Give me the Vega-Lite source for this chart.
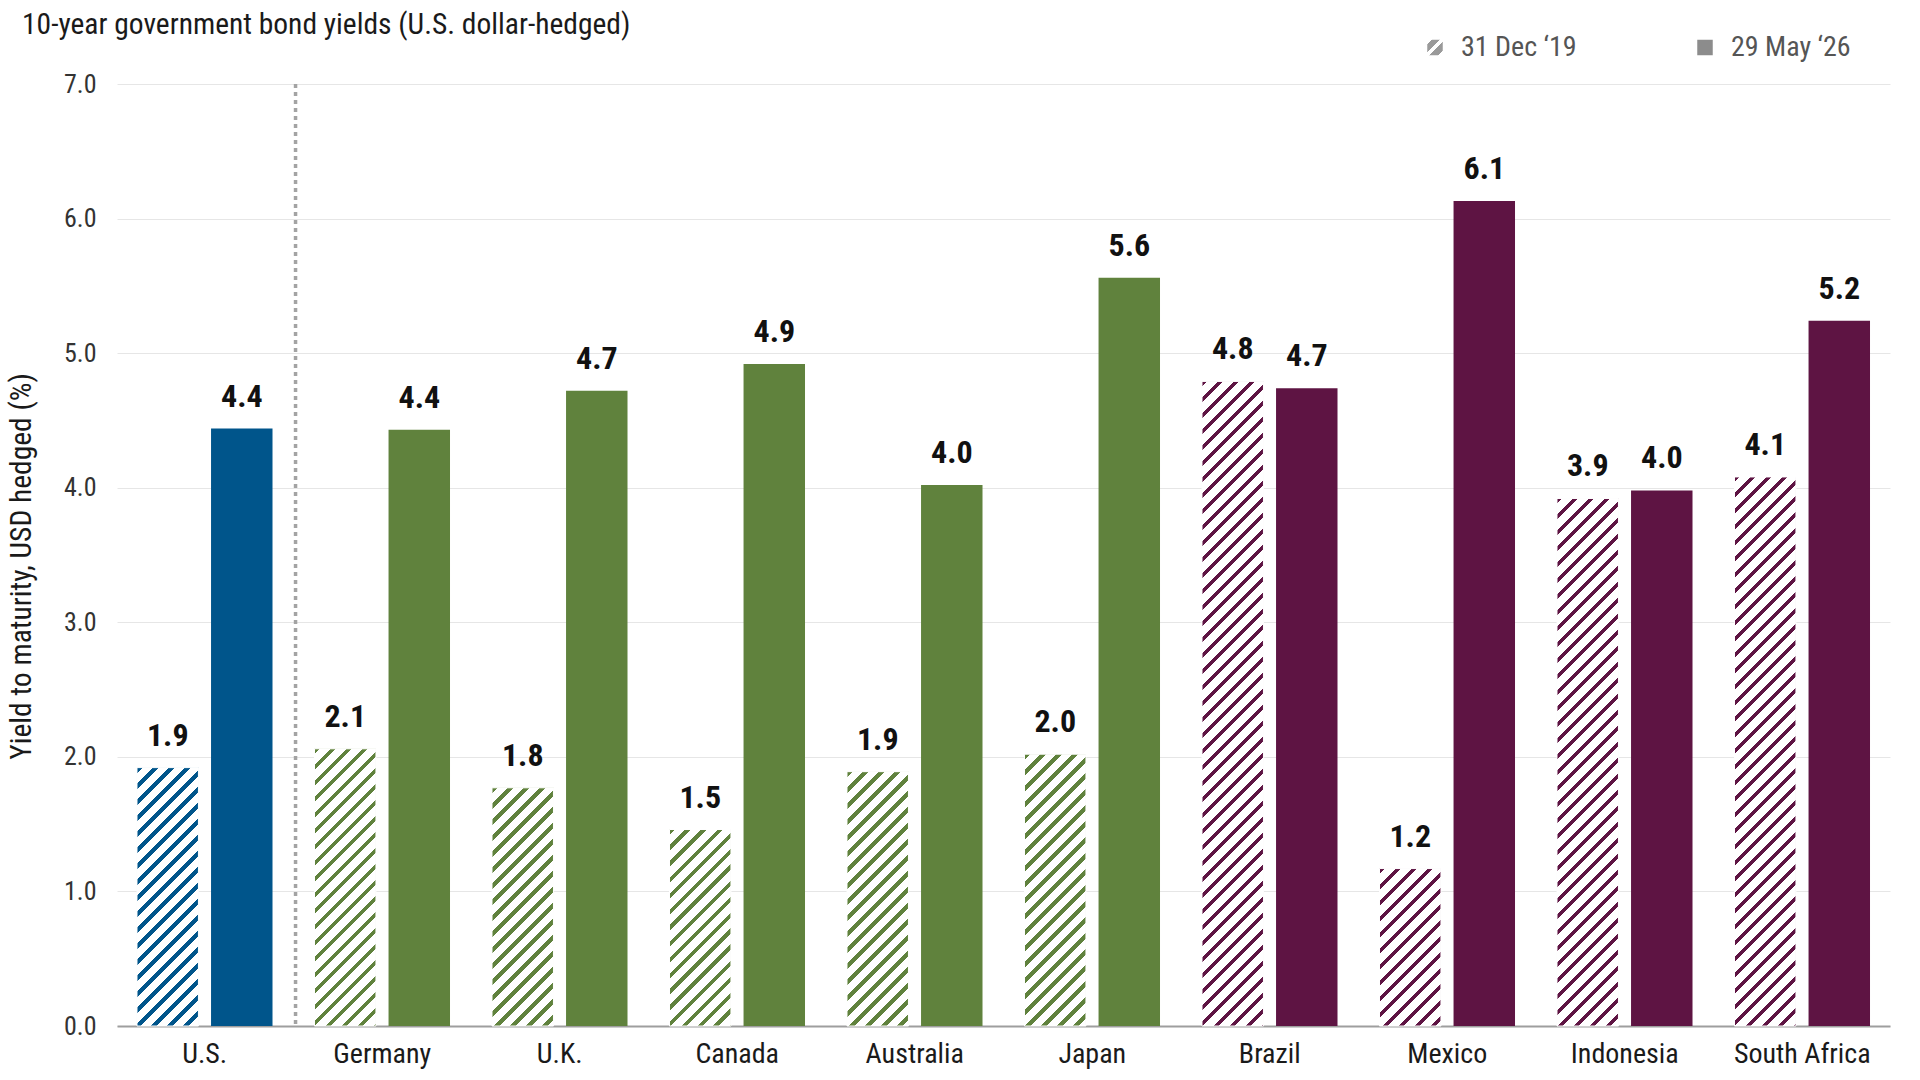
{
  "$schema": "https://vega.github.io/schema/vega-lite/v6.json",
  "width": 1773,
  "height": 942,
  "autosize": {"type": "none"},
  "padding": {"left": 117, "top": 84, "right": 30, "bottom": 54},
  "background": "white",
  "params": [
    {"name": "hatch", "value": [
      {"offset":0,"color":"rgba(255,255,255,0)"},{"offset":0.0076,"color":"rgba(255,255,255,0)"},{"offset":0.0076,"color":"#ffffff"},{"offset":0.0222,"color":"#ffffff"},
      {"offset":0.0222,"color":"rgba(255,255,255,0)"},{"offset":0.0298,"color":"rgba(255,255,255,0)"},{"offset":0.0298,"color":"#ffffff"},{"offset":0.0444,"color":"#ffffff"},
      {"offset":0.0444,"color":"rgba(255,255,255,0)"},{"offset":0.0520,"color":"rgba(255,255,255,0)"},{"offset":0.0520,"color":"#ffffff"},{"offset":0.0667,"color":"#ffffff"},
      {"offset":0.0667,"color":"rgba(255,255,255,0)"},{"offset":0.0742,"color":"rgba(255,255,255,0)"},{"offset":0.0742,"color":"#ffffff"},{"offset":0.0889,"color":"#ffffff"},
      {"offset":0.0889,"color":"rgba(255,255,255,0)"},{"offset":0.0964,"color":"rgba(255,255,255,0)"},{"offset":0.0964,"color":"#ffffff"},{"offset":0.1111,"color":"#ffffff"},
      {"offset":0.1111,"color":"rgba(255,255,255,0)"},{"offset":0.1187,"color":"rgba(255,255,255,0)"},{"offset":0.1187,"color":"#ffffff"},{"offset":0.1333,"color":"#ffffff"},
      {"offset":0.1333,"color":"rgba(255,255,255,0)"},{"offset":0.1409,"color":"rgba(255,255,255,0)"},{"offset":0.1409,"color":"#ffffff"},{"offset":0.1556,"color":"#ffffff"},
      {"offset":0.1556,"color":"rgba(255,255,255,0)"},{"offset":0.1631,"color":"rgba(255,255,255,0)"},{"offset":0.1631,"color":"#ffffff"},{"offset":0.1778,"color":"#ffffff"},
      {"offset":0.1778,"color":"rgba(255,255,255,0)"},{"offset":0.1853,"color":"rgba(255,255,255,0)"},{"offset":0.1853,"color":"#ffffff"},{"offset":0.2,"color":"#ffffff"},
      {"offset":0.2,"color":"rgba(255,255,255,0)"},{"offset":0.2076,"color":"rgba(255,255,255,0)"},{"offset":0.2076,"color":"#ffffff"},{"offset":0.2222,"color":"#ffffff"},
      {"offset":0.2222,"color":"rgba(255,255,255,0)"},{"offset":0.2298,"color":"rgba(255,255,255,0)"},{"offset":0.2298,"color":"#ffffff"},{"offset":0.2444,"color":"#ffffff"},
      {"offset":0.2444,"color":"rgba(255,255,255,0)"},{"offset":0.2520,"color":"rgba(255,255,255,0)"},{"offset":0.2520,"color":"#ffffff"},{"offset":0.2667,"color":"#ffffff"},
      {"offset":0.2667,"color":"rgba(255,255,255,0)"},{"offset":0.2742,"color":"rgba(255,255,255,0)"},{"offset":0.2742,"color":"#ffffff"},{"offset":0.2889,"color":"#ffffff"},
      {"offset":0.2889,"color":"rgba(255,255,255,0)"},{"offset":0.2964,"color":"rgba(255,255,255,0)"},{"offset":0.2964,"color":"#ffffff"},{"offset":0.3111,"color":"#ffffff"},
      {"offset":0.3111,"color":"rgba(255,255,255,0)"},{"offset":0.3187,"color":"rgba(255,255,255,0)"},{"offset":0.3187,"color":"#ffffff"},{"offset":0.3333,"color":"#ffffff"},
      {"offset":0.3333,"color":"rgba(255,255,255,0)"},{"offset":0.3409,"color":"rgba(255,255,255,0)"},{"offset":0.3409,"color":"#ffffff"},{"offset":0.3556,"color":"#ffffff"},
      {"offset":0.3556,"color":"rgba(255,255,255,0)"},{"offset":0.3631,"color":"rgba(255,255,255,0)"},{"offset":0.3631,"color":"#ffffff"},{"offset":0.3778,"color":"#ffffff"},
      {"offset":0.3778,"color":"rgba(255,255,255,0)"},{"offset":0.3853,"color":"rgba(255,255,255,0)"},{"offset":0.3853,"color":"#ffffff"},{"offset":0.4,"color":"#ffffff"},
      {"offset":0.4,"color":"rgba(255,255,255,0)"},{"offset":0.4076,"color":"rgba(255,255,255,0)"},{"offset":0.4076,"color":"#ffffff"},{"offset":0.4222,"color":"#ffffff"},
      {"offset":0.4222,"color":"rgba(255,255,255,0)"},{"offset":0.4298,"color":"rgba(255,255,255,0)"},{"offset":0.4298,"color":"#ffffff"},{"offset":0.4444,"color":"#ffffff"},
      {"offset":0.4444,"color":"rgba(255,255,255,0)"},{"offset":0.4520,"color":"rgba(255,255,255,0)"},{"offset":0.4520,"color":"#ffffff"},{"offset":0.4667,"color":"#ffffff"},
      {"offset":0.4667,"color":"rgba(255,255,255,0)"},{"offset":0.4742,"color":"rgba(255,255,255,0)"},{"offset":0.4742,"color":"#ffffff"},{"offset":0.4889,"color":"#ffffff"},
      {"offset":0.4889,"color":"rgba(255,255,255,0)"},{"offset":0.4964,"color":"rgba(255,255,255,0)"},{"offset":0.4964,"color":"#ffffff"},{"offset":0.5111,"color":"#ffffff"},
      {"offset":0.5111,"color":"rgba(255,255,255,0)"},{"offset":0.5187,"color":"rgba(255,255,255,0)"},{"offset":0.5187,"color":"#ffffff"},{"offset":0.5333,"color":"#ffffff"},
      {"offset":0.5333,"color":"rgba(255,255,255,0)"},{"offset":0.5409,"color":"rgba(255,255,255,0)"},{"offset":0.5409,"color":"#ffffff"},{"offset":0.5556,"color":"#ffffff"},
      {"offset":0.5556,"color":"rgba(255,255,255,0)"},{"offset":0.5631,"color":"rgba(255,255,255,0)"},{"offset":0.5631,"color":"#ffffff"},{"offset":0.5778,"color":"#ffffff"},
      {"offset":0.5778,"color":"rgba(255,255,255,0)"},{"offset":0.5853,"color":"rgba(255,255,255,0)"},{"offset":0.5853,"color":"#ffffff"},{"offset":0.6,"color":"#ffffff"},
      {"offset":0.6,"color":"rgba(255,255,255,0)"},{"offset":0.6076,"color":"rgba(255,255,255,0)"},{"offset":0.6076,"color":"#ffffff"},{"offset":0.6222,"color":"#ffffff"},
      {"offset":0.6222,"color":"rgba(255,255,255,0)"},{"offset":0.6298,"color":"rgba(255,255,255,0)"},{"offset":0.6298,"color":"#ffffff"},{"offset":0.6444,"color":"#ffffff"},
      {"offset":0.6444,"color":"rgba(255,255,255,0)"},{"offset":0.6520,"color":"rgba(255,255,255,0)"},{"offset":0.6520,"color":"#ffffff"},{"offset":0.6667,"color":"#ffffff"},
      {"offset":0.6667,"color":"rgba(255,255,255,0)"},{"offset":0.6742,"color":"rgba(255,255,255,0)"},{"offset":0.6742,"color":"#ffffff"},{"offset":0.6889,"color":"#ffffff"},
      {"offset":0.6889,"color":"rgba(255,255,255,0)"},{"offset":0.6964,"color":"rgba(255,255,255,0)"},{"offset":0.6964,"color":"#ffffff"},{"offset":0.7111,"color":"#ffffff"},
      {"offset":0.7111,"color":"rgba(255,255,255,0)"},{"offset":0.7187,"color":"rgba(255,255,255,0)"},{"offset":0.7187,"color":"#ffffff"},{"offset":0.7333,"color":"#ffffff"},
      {"offset":0.7333,"color":"rgba(255,255,255,0)"},{"offset":0.7409,"color":"rgba(255,255,255,0)"},{"offset":0.7409,"color":"#ffffff"},{"offset":0.7556,"color":"#ffffff"},
      {"offset":0.7556,"color":"rgba(255,255,255,0)"},{"offset":0.7631,"color":"rgba(255,255,255,0)"},{"offset":0.7631,"color":"#ffffff"},{"offset":0.7778,"color":"#ffffff"},
      {"offset":0.7778,"color":"rgba(255,255,255,0)"},{"offset":0.7853,"color":"rgba(255,255,255,0)"},{"offset":0.7853,"color":"#ffffff"},{"offset":0.8,"color":"#ffffff"},
      {"offset":0.8,"color":"rgba(255,255,255,0)"},{"offset":0.8076,"color":"rgba(255,255,255,0)"},{"offset":0.8076,"color":"#ffffff"},{"offset":0.8222,"color":"#ffffff"},
      {"offset":0.8222,"color":"rgba(255,255,255,0)"},{"offset":0.8298,"color":"rgba(255,255,255,0)"},{"offset":0.8298,"color":"#ffffff"},{"offset":0.8444,"color":"#ffffff"},
      {"offset":0.8444,"color":"rgba(255,255,255,0)"},{"offset":0.8520,"color":"rgba(255,255,255,0)"},{"offset":0.8520,"color":"#ffffff"},{"offset":0.8667,"color":"#ffffff"},
      {"offset":0.8667,"color":"rgba(255,255,255,0)"},{"offset":0.8742,"color":"rgba(255,255,255,0)"},{"offset":0.8742,"color":"#ffffff"},{"offset":0.8889,"color":"#ffffff"},
      {"offset":0.8889,"color":"rgba(255,255,255,0)"},{"offset":0.8964,"color":"rgba(255,255,255,0)"},{"offset":0.8964,"color":"#ffffff"},{"offset":0.9111,"color":"#ffffff"},
      {"offset":0.9111,"color":"rgba(255,255,255,0)"},{"offset":0.9187,"color":"rgba(255,255,255,0)"},{"offset":0.9187,"color":"#ffffff"},{"offset":0.9333,"color":"#ffffff"},
      {"offset":0.9333,"color":"rgba(255,255,255,0)"},{"offset":0.9409,"color":"rgba(255,255,255,0)"},{"offset":0.9409,"color":"#ffffff"},{"offset":0.9556,"color":"#ffffff"},
      {"offset":0.9556,"color":"rgba(255,255,255,0)"},{"offset":0.9631,"color":"rgba(255,255,255,0)"},{"offset":0.9631,"color":"#ffffff"},{"offset":0.9778,"color":"#ffffff"},
      {"offset":0.9778,"color":"rgba(255,255,255,0)"},{"offset":0.9853,"color":"rgba(255,255,255,0)"},{"offset":0.9853,"color":"#ffffff"},{"offset":1,"color":"#ffffff"}
    ]},
    {"name": "iconHatch", "value": [
      {"offset":0,"color":"#ffffff"},{"offset":0.14,"color":"#ffffff"},{"offset":0.14,"color":"#9a9a9a"},{"offset":0.4,"color":"#9a9a9a"},
      {"offset":0.4,"color":"#ffffff"},{"offset":0.58,"color":"#ffffff"},{"offset":0.58,"color":"#9a9a9a"},{"offset":0.84,"color":"#9a9a9a"},
      {"offset":0.84,"color":"#ffffff"},{"offset":1,"color":"#ffffff"}
    ]}
  ],
  "title": {
    "text": "10-year government bond yields (U.S. dollar-hedged)",
    "anchor": "start",
    "frame": "group",
    "dx": -95,
    "offset": -30,
    "baseline": "alphabetic",
    "fontSize": 29.5,
    "fontWeight": "normal",
    "color": "#1a1a1a"
  },
  "data": {"values": [
    {"country": "U.S.", "group": "us", "period": "31 Dec ‘19", "value": 1.92},
    {"country": "U.S.", "group": "us", "period": "29 May ‘26", "value": 4.44},
    {"country": "Germany", "group": "dm", "period": "31 Dec ‘19", "value": 2.06},
    {"country": "Germany", "group": "dm", "period": "29 May ‘26", "value": 4.43},
    {"country": "U.K.", "group": "dm", "period": "31 Dec ‘19", "value": 1.77},
    {"country": "U.K.", "group": "dm", "period": "29 May ‘26", "value": 4.72},
    {"country": "Canada", "group": "dm", "period": "31 Dec ‘19", "value": 1.46},
    {"country": "Canada", "group": "dm", "period": "29 May ‘26", "value": 4.92},
    {"country": "Australia", "group": "dm", "period": "31 Dec ‘19", "value": 1.89},
    {"country": "Australia", "group": "dm", "period": "29 May ‘26", "value": 4.02},
    {"country": "Japan", "group": "dm", "period": "31 Dec ‘19", "value": 2.02},
    {"country": "Japan", "group": "dm", "period": "29 May ‘26", "value": 5.56},
    {"country": "Brazil", "group": "em", "period": "31 Dec ‘19", "value": 4.79},
    {"country": "Brazil", "group": "em", "period": "29 May ‘26", "value": 4.74},
    {"country": "Mexico", "group": "em", "period": "31 Dec ‘19", "value": 1.17},
    {"country": "Mexico", "group": "em", "period": "29 May ‘26", "value": 6.13},
    {"country": "Indonesia", "group": "em", "period": "31 Dec ‘19", "value": 3.92},
    {"country": "Indonesia", "group": "em", "period": "29 May ‘26", "value": 3.98},
    {"country": "South Africa", "group": "em", "period": "31 Dec ‘19", "value": 4.08},
    {"country": "South Africa", "group": "em", "period": "29 May ‘26", "value": 5.24}
  ]},
  "layer": [
    {
      "encoding": {
        "x": {
          "field": "country", "type": "nominal",
          "scale": {"domain": ["U.S.", "Germany", "U.K.", "Canada", "Australia", "Japan", "Brazil", "Mexico", "Indonesia", "South Africa"], "paddingInner": 0.2365, "paddingOuter": 0.1126},
          "axis": {"title": null, "labelAngle": 0, "ticks": false, "labelPadding": 14, "labelFontSize": 28, "labelColor": "#1a1a1a", "domain": true, "domainColor": "#9e9e9e", "domainWidth": 2, "grid": false}
        },
        "y": {
          "field": "value", "type": "quantitative",
          "scale": {"domain": [0, 7], "nice": false, "zero": true},
          "axis": {"title": "Yield to maturity, USD hedged (%)", "values": [0, 1, 2, 3, 4, 5, 6, 7], "format": ".1f", "grid": true, "gridColor": "#e6e6e6", "gridWidth": 1, "domain": false, "ticks": false, "labelPadding": 21, "labelFontSize": 26, "labelColor": "#333333", "titleFontSize": 29.5, "titleFontWeight": "normal", "titleColor": "#1a1a1a", "titlePadding": 27, "titleY": 482}
        },
        "xOffset": {"field": "period", "type": "nominal", "scale": {"domain": ["31 Dec ‘19", "29 May ‘26"], "paddingInner": 0.17, "paddingOuter": 0}}
      },
      "layer": [
        {
          "mark": {"type": "bar"},
          "encoding": {
            "color": {"field": "group", "type": "nominal", "scale": {"domain": ["us", "dm", "em"], "range": ["#00558b", "#60823d", "#5e1443"]}, "legend": null},
            "opacity": {
              "field": "period", "type": "nominal",
              "scale": {"domain": ["31 Dec ‘19", "29 May ‘26"], "range": [1, 1]},
              "legend": {
                "title": null, "orient": "none", "legendX": 1304, "legendY": -50.5, "direction": "horizontal",
                "symbolType": "square", "symbolSize": 240, "symbolStrokeWidth": 0,
                "symbolFillColor": {"expr": "datum.value === '31 Dec ‘19' ? {gradient: 'linear', x1: 0, y1: 0, x2: 1, y2: 1, stops: iconHatch} : '#8c8c8c'"},
                "symbolOpacity": 1,
                "labelFontSize": 28, "labelColor": "#555555", "labelOffset": 12, "columnPadding": 114, "padding": 0
              }
            }
          }
        },
        {
          "transform": [{"filter": "datum.period === '31 Dec ‘19'"}],
          "mark": {
            "type": "bar",
            "stroke": "#ffffff",
            "strokeWidth": 1,
            "fill": {"expr": "{gradient: 'linear', x1: 0, y1: 0, x2: bandwidth('xOffset') * 720 / (bandwidth('xOffset') * bandwidth('xOffset') + (scale('y', 0) - scale('y', datum.value)) * (scale('y', 0) - scale('y', datum.value))), y2: (scale('y', 0) - scale('y', datum.value)) * 720 / (bandwidth('xOffset') * bandwidth('xOffset') + (scale('y', 0) - scale('y', datum.value)) * (scale('y', 0) - scale('y', datum.value))), stops: hatch}"}
          },
          "encoding": {}
        },
        {
          "mark": {"type": "text", "baseline": "alphabetic", "dy": -22, "fontSize": 32, "fontWeight": "bold", "color": "#111111"},
          "encoding": {
            "text": {"field": "value", "type": "quantitative", "format": ".1f"}
          }
        }
      ]
    },
    {
      "data": {"values": [{"country": "U.S."}]},
      "mark": {"type": "rule", "strokeDash": [4, 4], "strokeWidth": 3.5, "color": "#a3a3a3"},
      "encoding": {
        "x": {"field": "country", "type": "nominal", "bandPosition": 1.17}
      }
    }
  ],
  "config": {
    "font": "Liberation Sans Narrow, Roboto Condensed, DejaVu Sans Condensed, Roboto, sans-serif",
    "view": {"stroke": null}
  }
}
